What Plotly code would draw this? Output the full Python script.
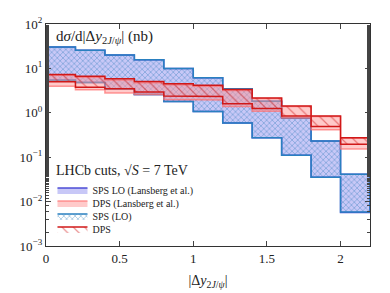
import numpy as np
import plotly.graph_objects as go

# ---- data ----
bin_edges = [0.0, 0.2, 0.4, 0.6, 0.8, 1.0, 1.2, 1.4, 1.6, 1.8, 2.0, 2.2]

sps_lans_hi = [30.3, 25.6, 20.0, 15.6, 10.0, 6.14, 3.47, 1.83, 0.767, 0.232, 0.0414]
sps_lans_lo = [5.41, 4.81, 3.47, 2.58, 1.80, 1.07, 0.59, 0.273, 0.111, 0.0354, 0.0057]

dps_lans_hi = [7.02, 6.36, 5.49, 4.73, 4.29, 3.98, 3.19, 2.10, 1.38, 0.826, 0.266]
dps_lans_lo = [3.98, 3.30, 2.80, 2.58, 2.00, 1.95, 1.38, 1.08, 0.767, 0.415, 0.153]

sps_lo_hi = [30.3, 25.6, 20.0, 15.6, 10.0, 6.14, 3.47, 1.83, 0.767, 0.232, 0.0414]
sps_lo_lo = [5.41, 4.81, 3.47, 2.58, 1.80, 1.07, 0.59, 0.273, 0.111, 0.0354, 0.0058]

dps_hi = [7.26, 6.68, 5.85, 5.05, 4.51, 4.19, 3.36, 2.15, 1.43, 0.845, 0.273]
dps_lo = [4.99, 3.76, 3.47, 2.94, 2.38, 2.32, 1.60, 1.25, 0.845, 0.492, 0.196]

legend_names = ["SPS LO (Lansberg et al.)", "DPS (Lansberg et al.)", "SPS (LO)", "DPS"]

y_tick_vals = [1e-3, 1e-2, 1e-1, 1e0, 1e1, 1e2]
y_tick_text = ["10<sup>−3</sup>", "10<sup>−2</sup>", "10<sup>−1</sup>",
               "10<sup>0</sup>", "10<sup>1</sup>", "10<sup>2</sup>"]


def band_path(lo, hi):
    n = len(hi)
    xs, ys = [], []
    for i in range(n):
        xs += [bin_edges[i], bin_edges[i + 1]]
        ys += [hi[i], hi[i]]
    for i in range(n - 1, -1, -1):
        xs += [bin_edges[i + 1], bin_edges[i]]
        ys += [lo[i], lo[i]]
    xs.append(xs[0])
    ys.append(ys[0])
    return xs, ys


FONT = "Liberation Serif"
fig = go.Figure()

x, y = band_path(sps_lans_lo, sps_lans_hi)
fig.add_trace(go.Scatter(x=x, y=y, mode="lines", fill="toself",
                         fillcolor="rgba(125,125,235,0.42)",
                         line=dict(color="rgba(60,60,210,0.9)", width=1.5),
                         name=legend_names[0], legend="legend"))

x, y = band_path(sps_lo_lo, sps_lo_hi)
fig.add_trace(go.Scatter(x=x, y=y, mode="lines", fill="toself",
                         fillcolor="rgba(0,0,0,0)",
                         fillpattern=dict(shape="x", fgcolor="#1a70b0", bgcolor="rgba(0,0,0,0)",
                                          size=4, solidity=0.3),
                         line=dict(color="#2a80c0", width=1.5),
                         name=legend_names[2], legend="legend3"))

x, y = band_path(dps_lans_lo, dps_lans_hi)
fig.add_trace(go.Scatter(x=x, y=y, mode="lines", fill="toself",
                         fillcolor="rgba(255,150,150,0.5)",
                         line=dict(color="rgba(255,110,110,0.7)", width=1.5),
                         name=legend_names[1], legend="legend2"))

x, y = band_path(dps_lo, dps_hi)
fig.add_trace(go.Scatter(x=x, y=y, mode="lines", fill="toself",
                         fillcolor="rgba(0,0,0,0)",
                         fillpattern=dict(shape="\\", fgcolor="#d42020", bgcolor="rgba(0,0,0,0)",
                                          size=8, solidity=0.15),
                         line=dict(color="#d01818", width=1.5),
                         name=legend_names[3], legend="legend4"))

fig.add_annotation(x=0.025, y=0.99, xref="paper", yref="paper", xanchor="left", yanchor="top",
                   text="d<i>σ</i>/d|Δ<i>y</i><sub>2<i>J</i>/<i>ψ</i></sub>| (nb)",
                   showarrow=False, font=dict(family=FONT, size=15, color="#222"))
fig.add_annotation(x=0.025, y=0.338, xref="paper", yref="paper", xanchor="left", yanchor="middle",
                   text="LHCb cuts, √<i>S</i> = 7 TeV",
                   showarrow=False, font=dict(family=FONT, size=14, color="#222"))

leg_common = dict(x=0.02, xanchor="left", yanchor="middle", bgcolor="rgba(0,0,0,0)",
                  font=dict(family=FONT, size=10), itemwidth=30)

# page body adds an 8px offset, so the figure is sized/margined to compensate
fig.update_layout(
    width=382, height=285,
    margin=dict(l=38, r=20, t=7, b=44),
    paper_bgcolor="white", plot_bgcolor="white",
    font=dict(family=FONT, size=12, color="#222"),
    showlegend=True,
    legend=dict(y=0.252, **leg_common),
    legend2=dict(y=0.194, **leg_common),
    legend3=dict(y=0.135, **leg_common),
    legend4=dict(y=0.077, **leg_common),
)
fig.update_xaxes(range=[0, 2.2], dtick=0.5, tick0=0, ticks="inside", ticklen=5,
                 mirror="ticks", showline=True, linecolor="#333", linewidth=1.2,
                 showgrid=False, zeroline=False, ticklabeloverflow="allow",
                 title=dict(text="|Δ<i>y</i><sub>2<i>J</i>/<i>ψ</i></sub>|", font=dict(size=14), standoff=10),
                 tickfont=dict(size=13))
fig.update_yaxes(type="log", range=[-3, 2], tickvals=y_tick_vals, ticktext=y_tick_text,
                 ticks="inside", ticklen=5, mirror="ticks", showline=True,
                 linecolor="#333", linewidth=1.2, showgrid=False, zeroline=False,
                 ticklabeloverflow="allow",
                 minor=dict(ticks="inside", ticklen=3, showgrid=False),
                 tickfont=dict(size=13))

fig.write_html("out.html")
